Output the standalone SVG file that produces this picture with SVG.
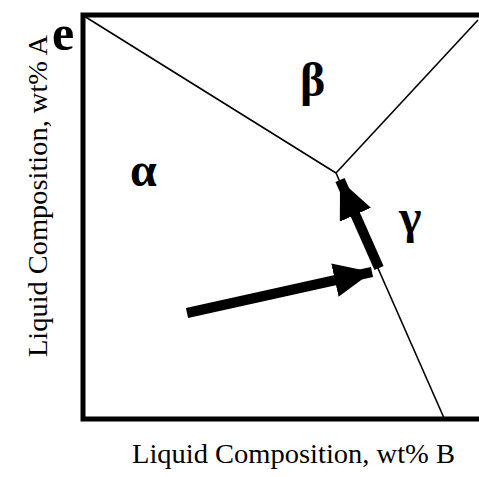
<svg xmlns="http://www.w3.org/2000/svg" width="479" height="477" viewBox="0 0 479 477">
<style>
.frame{stroke:#000;stroke-width:5;fill:none}
.bd{stroke:#000;stroke-width:1.6;fill:none}
.arr{stroke:#000;stroke-width:10;fill:none}
.lbl{font-family:"Liberation Serif",serif;font-size:27px;fill:#000}
.gr{font-family:"Liberation Serif","DejaVu Serif",serif;font-size:48px;font-weight:bold;fill:#000}
</style>
<defs>
<marker id="head" markerUnits="userSpaceOnUse" markerWidth="40" markerHeight="40" viewBox="0 0 40 40" refX="38" refY="20" orient="auto">
<path d="M0,3 L38,20 L0,37 Z" fill="#000"/>
</marker>
</defs>
<g id="frame">
<path class="frame" d="M479,15 L83,15 L83,419 L479,419"/>
</g>
<g id="boundaries">
<line class="bd" x1="84" y1="16" x2="336" y2="173"/>
<line class="bd" x1="336" y1="173" x2="478" y2="20"/>
<line class="bd" x1="336" y1="173" x2="444" y2="418"/>
</g>
<g id="connectors">
<line class="arr" x1="187" y1="313" x2="372" y2="272" marker-end="url(#head)"/>
<line class="arr" x1="379" y1="268" x2="340" y2="180" marker-end="url(#head)"/>
</g>
<g id="labels">
<text class="gr" x="52" y="50" style="font-size:50px">e</text>
<text class="gr" x="130" y="186">α</text>
<text class="gr" x="300" y="96">β</text>
<text class="gr" x="399" y="233">γ</text>
<text class="lbl" x="293.5" y="463" text-anchor="middle" textLength="323" lengthAdjust="spacingAndGlyphs">Liquid Composition, wt% B</text>
<text class="lbl" transform="translate(47,196) rotate(-90)" text-anchor="middle" textLength="322" lengthAdjust="spacingAndGlyphs">Liquid Composition, wt% A</text>
</g>
</svg>
